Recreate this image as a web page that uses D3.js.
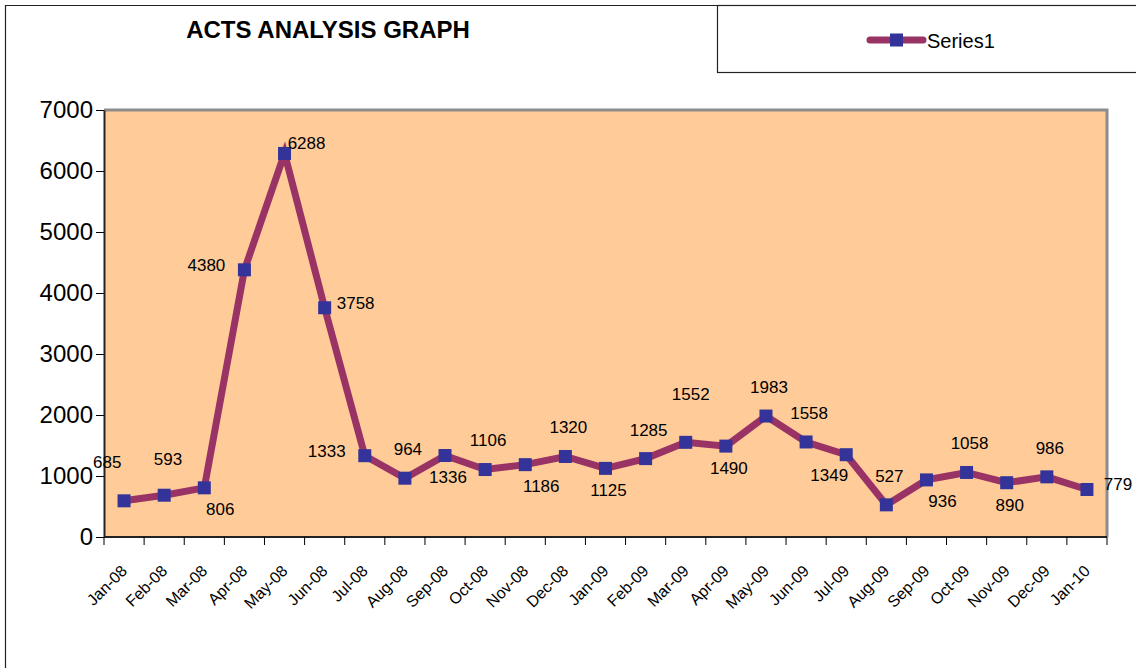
<!DOCTYPE html>
<meta charset="utf-8">
<style>
    body { margin: 0; background: #fff; }
    text { font-family: "Liberation Sans", Arial, sans-serif; fill: #000; }
    .line { fill: none; stroke: #993366; stroke-width: 7px; stroke-linejoin: miter; }
</style>
<svg width="1136" height="668"></svg>
<script src="https://d3js.org/d3.v7.min.js"></script>
<script>
    // data
    var months = ["Jan-08", "Feb-08", "Mar-08", "Apr-08", "May-08", "Jun-08", "Jul-08", "Aug-08",
        "Sep-08", "Oct-08", "Nov-08", "Dec-08", "Jan-09", "Feb-09", "Mar-09", "Apr-09", "May-09",
        "Jun-09", "Jul-09", "Aug-09", "Sep-09", "Oct-09", "Nov-09", "Dec-09", "Jan-10"];
    var series1 = [593, 685, 806, 4380, 6288, 3758, 1333, 964, 1336, 1106, 1186, 1320, 1125,
        1285, 1552, 1490, 1983, 1558, 1349, 527, 936, 1058, 890, 986, 779];
    var yTicks = [0, 1000, 2000, 3000, 4000, 5000, 6000, 7000];
    // where each data label sits around its point
    var labelSide = ["fr", "fl", "br", "l", "tr", "r", "l", "t", "b", "t", "br", "t", "b",
        "t", "tt", "b", "t", "t", "bl", "t", "br", "t", "b", "t", "r"];

    var nudge = {
        t: [3, -29], tt: [5, -48], b: [3, 22], l: [-38, -5], r: [31, -5],
        tr: [22, -10], br: [16, 21], bl: [-17, 20], fr: [44, -42], fl: [-57, -33]
    };

    var svg = d3.select("svg");

    // outer chart frame
    svg.append("path")
        .attr("d", "M5.5,668V5.5H1136")
        .attr("fill", "none")
        .attr("stroke", "#222")
        .attr("stroke-width", 1.2);

    svg.append("text")
        .attr("x", 328)
        .attr("y", 38)
        .attr("text-anchor", "middle")
        .attr("font-size", 24)
        .attr("font-weight", "bold")
        .text("ACTS ANALYSIS GRAPH");

    var x = d3.scaleBand().domain(months).range([104, 1107]);
    var y = d3.scaleLinear().domain([0, 7000]).range([537, 110]);

    // plot area
    svg.append("rect")
        .attr("x", x.range()[0])
        .attr("y", y(7000))
        .attr("width", x.range()[1] - x.range()[0])
        .attr("height", y(0) - y(7000))
        .attr("fill", "#FFCC99");
    svg.append("path")
        .attr("d", "M" + x.range()[0] + "," + y(7000) + "H" + x.range()[1] + "V" + y(0))
        .attr("fill", "none")
        .attr("stroke", "#8c8c8c")
        .attr("stroke-width", 3);

    var yAxis = svg.append("g")
        .attr("transform", "translate(" + x.range()[0] + ",0)")
        .call(d3.axisLeft(y).tickValues(yTicks).tickFormat(d3.format("d"))
            .tickSize(8).tickPadding(3).tickSizeOuter(0));
    yAxis.select(".domain").attr("stroke", "#222").attr("stroke-width", 2);
    yAxis.selectAll("text")
        .attr("font-size", 24)
        .attr("font-family", "Liberation Sans, Arial, sans-serif");

    // x axis: ticks on category boundaries, labels centred in each band
    var xAxis = svg.append("g");
    xAxis.append("line")
        .attr("x1", x.range()[0]).attr("x2", x.range()[1])
        .attr("y1", y(0)).attr("y2", y(0))
        .attr("stroke", "#222").attr("stroke-width", 2);
    xAxis.selectAll(".tick")
        .data(months.map(function (d) { return x(d); }).concat([x.range()[1]]))
        .enter().append("line")
        .attr("x1", function (d) { return d; })
        .attr("x2", function (d) { return d; })
        .attr("y1", y(0))
        .attr("y2", y(0) + 8)
        .attr("stroke", "#000");
    xAxis.selectAll("text")
        .data(months)
        .enter().append("text")
        .attr("text-anchor", "end")
        .attr("font-size", 16)
        .attr("transform", function (d) {
            return "translate(" + (x(d) + x.bandwidth() / 2 + 4) + "," + (y(0) + 35) + ")rotate(-45)";
        })
        .text(function (d) { return d; });

    var pts = months.map(function (m, i) {
        return { m: m, v: series1[i], side: labelSide[i] };
    });

    var line = d3.line()
        .x(function (d) { return x(d.m) + x.bandwidth() / 2; })
        .y(function (d) { return y(d.v); });

    svg.append("path")
        .attr("class", "line")
        .attr("d", line(pts));

    svg.selectAll(".marker")
        .data(pts)
        .enter().append("rect")
        .attr("class", "marker")
        .attr("x", function (d) { return x(d.m) + x.bandwidth() / 2 - 6.5; })
        .attr("y", function (d) { return y(d.v) - 6.5; })
        .attr("width", 13)
        .attr("height", 13)
        .attr("fill", "#333399");

    svg.selectAll(".dlabel")
        .data(pts)
        .enter().append("text")
        .attr("class", "dlabel")
        .attr("text-anchor", "middle")
        .attr("font-size", 17)
        .attr("dy", "0.35em")
        .attr("x", function (d) { return x(d.m) + x.bandwidth() / 2 + nudge[d.side][0]; })
        .attr("y", function (d) { return y(d.v) + nudge[d.side][1]; })
        .text(function (d) { return d.v; });

    // legend
    var legend = svg.append("g");
    legend.append("rect")
        .attr("x", 717.5).attr("y", 5.5)
        .attr("width", 430).attr("height", 67)
        .attr("fill", "#fff")
        .attr("stroke", "#222")
        .attr("stroke-width", 1.2);
    legend.append("line")
        .attr("x1", 870).attr("x2", 923)
        .attr("y1", 40).attr("y2", 40)
        .attr("stroke", "#993366")
        .attr("stroke-width", 7)
        .attr("stroke-linecap", "round");
    legend.append("rect")
        .attr("x", 890).attr("y", 33.5)
        .attr("width", 13).attr("height", 13)
        .attr("fill", "#333399");
    legend.append("text")
        .attr("x", 927).attr("y", 41)
        .attr("dy", "0.35em")
        .attr("font-size", 20)
        .text("Series1");
</script>
